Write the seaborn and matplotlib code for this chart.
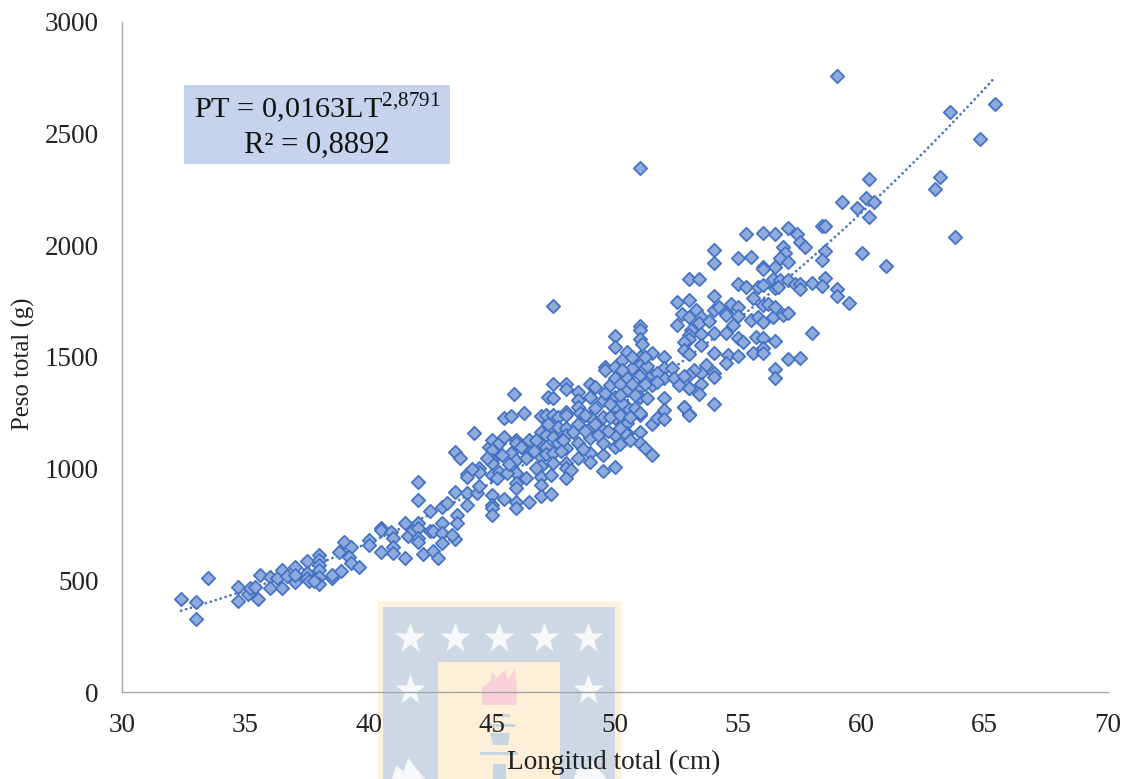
import numpy as np
import matplotlib
matplotlib.use("Agg")
import matplotlib.pyplot as plt
from matplotlib.patches import Rectangle, Polygon
import seaborn as sns

xticks = [30, 35, 40, 45, 50, 55, 60, 65, 70]
yticks = [0, 500, 1000, 1500, 2000, 2500, 3000]
xlabel = "Longitud total (cm)"
ylabel = "Peso total (g)"
coef_a, coef_b = 0.0163, 2.8791
trend_range = [32.4, 65.4]

small_fish = [
(32.4,416),(33,403),(33,327),(33.5,510),(34.7,470),(34.7,407),(35.1,439),(35.2,466),(35.5,416),(35.4,470),
(35.6,524),(36,515),(36,466),(36.3,510),(36.5,546),(36.5,466),(36.7,519),(37,560),(37,492),(37,524),
(37.5,587),(37.5,533),(37.5,510),(37.6,497),(38,613),(38,591),(38,569),(38,546),(38,515),(38,484),
(37.8,497),(38.5,510),(38.5,524),(38.9,542),(38.8,627),(39,672),(39.3,649),(39.2,605),(39.3,578),(39.6,560),
(40,681),(40,658),(40.5,627),(40.5,734),(40.5,725),(40.9,716),(41,690),(41,649),(41,622),(41.5,600),
(41.5,757),(41.6,699),(41.8,725),(42,940),(42,860),(42,757),(42,734),(42,690),(42,672),(42.2,618),
(42.5,810),(42.5,721),(42.6,721),(42.6,631),(42.8,600),(43,757),(43,712),(43,667),(43,828),(43.2,846),
(43.5,895),(43.5,685),(43.6,793),(43.6,757),(43.4,703),
]
medium_fish_a = [
(43.5,1075),(43.7,1048),(44.3,1160),(44,976),(44,963),(44,891),(44,837),(44.4,891),(44.5,1003),(44.5,985),
(44.5,922),(44.9,1097),(45,1128),(45,1084),(45,1039),(45,1025),(45,972),(45,882),(45,837),(45,824),(45,793),
(45.3,1115),(45.5,1142),(45.3,985),(45.2,958),(45.5,864),(45.5,1227),(45.8,1236),(45.9,1334),(46.3,1249),
(45.8,1070),(46,1128),(46,1115),(46,1039),(46,981),(46,936),(46,913),(46,851),(46,824),(45.6,981),
(46.2,1097),(46.4,958),(46.5,1128),(46.5,851),(46.5,1070),(47,1236),(47,1164),(47,1115),(47,1052),(47,1012),
(47,963),(47,927),(47,878),(46.8,1003),(47.2,1240),(47.2,1151),(47.2,1097),(47.2,1066),(47.4,887),(47.4,972),
(47.5,1728),(47.5,1379),(47.3,1321),(47.5,1316),(47.5,1240),(47.5,1182),(47.5,1142),(47.5,1070),(47.5,1025),
(47.7,1231),(47.7,1187),(47.7,1115),(48,1379),(48,1357),(48,1254),(48,1240),(48,1182),(48,1151),(48,1093),
(48,1025),(48,1003),(48,958),(48.2,994),(48.5,1343),(48.5,1307),(48.5,1276),(48.6,1249),(48.5,1200),(48.5,1115),
(48.5,1048),(48.3,1164),(47.9,1130),(47.8,1080),(47.3,1200),(46.8,1130),(46.7,1080),(46.4,1050),(45.7,1020),
(45.4,1060),(44.8,1050),(44.2,1000),
]
medium_fish_b = [
(49,1379),(49.2,1366),(49,1321),(49.2,1272),(49,1231),(49,1182),(49,1137),(49,1070),(49,1030),(49.5,990),
(49.5,1061),(49.5,1115),(49.5,1173),(49.5,1231),(49.5,1307),(49.6,1339),(49.6,1455),(49.6,1442),(49.8,1375),
(50,1594),(50,1545),(50,1455),(50,1406),(50,1321),(50,1276),(50,1227),(50,1151),(50,1097),(50,1008),
(50.3,1487),(50.5,1522),(50.5,1406),(50.5,1352),(50.5,1276),(50.5,1204),(50.5,1160),(50.3,1294),(50.4,1160),
(51,1639),(51,1621),(51,1581),(51.1,1558),(51,1500),(51,1464),(51,1419),(51,1366),(51,1321),(51,1240),
(51,1164),(51,1115),(51.2,1093),(51.5,1518),(51.5,1061),(51.5,1419),(51.5,1375),(51.3,1316),(51.5,1200),
(51.7,1227),(52,1500),(52,1451),(52,1406),(52,1316),(52,1263),(52,1222),(52.3,1451),(52.4,1406),(52.6,1375),
(53,1361),(52.8,1276),(53,1245),(50.2,1380),(50.2,1330),(50.7,1450),(50.7,1380),(50.8,1330),(50.8,1270),
(51.2,1450),(51.2,1380),(51.3,1460),(51.7,1430),(51.7,1390),(51.2,1500),(50.7,1500),(50.3,1440),(49.8,1290),
(49.8,1230),(49.7,1170),(50.2,1240),(50.2,1180),(50.2,1110),(50.6,1130),(50.6,1230),(51,1250),(49.2,1200),
(49.3,1150),(48.8,1240),(48.8,1170),(48.7,1090),(51,2346),
]
large_fish = [
(52.5,1746),(52.5,1643),(52.7,1693),(53,1849),(53.4,1849),(53,1755),(53.3,1711),(53,1679),(53.5,1679),(53.4,1652),
(53.1,1621),(53,1599),(53,1581),(52.8,1567),(53.5,1603),(53.5,1554),(52.8,1531),(53,1513),(54,1979),(54,1921),
(54,1773),(53.8,1661),(54,1711),(54,1608),(54,1518),(54,1428),(54,1411),(54,1290),(53.7,1464),(53.5,1428),
(53.2,1442),(53,1419),(52.8,1415),(53.5,1379),(53,1361),(53.4,1334),(52.8,1276),(53,1240),(54.2,1724),(54.5,1702),
(54.5,1688),(54.7,1737),(54.8,1643),(54.5,1608),(54.6,1509),(54.5,1473),(55,1943),(55,1827),(55,1724),(55,1684),
(55,1585),(55.2,1567),(55,1504),(55.3,2051),(55.5,1948),(55.3,1813),(55.6,1764),(55.5,1666),(55.6,1518),(55.7,1590),
(55.8,1813),(55.8,1679),(56,2055),(56,1903),(56,1894),(56,1822),(56,1733),(56,1657),(56,1585),(56,1540),
(56,1518),(56.2,1737),(56.4,1679),(56.5,2051),(56.5,1903),(56.4,1849),(56.5,1809),(56.5,1724),(56.5,1572),(56.5,1446),
(56.5,1406),(56.8,1688),(57,2078),(56.8,1993),(56.9,1966),(56.7,1943),(57,1925),(56.7,1845),(56.6,1813),(57,1845),
(57,1697),(57,1491),(57.4,2051),(57.5,2015),(57.7,1993),(57.3,1827),(57.5,1827),(57.5,1805),(57.5,1496),(58,1831),
(58,1608),(58.4,2087),(58.5,2087),(58.5,1975),(58.4,1934),(58.5,1854),(58.4,1818),(59,1805),(59,1773),(59.5,1742),
(60,1966),(61,1908),(60.3,2127),(59,2758),(60.3,2297),(59.2,2194),(59.8,2167),(60.2,2212),(60.5,2194),
(63.8,2038),(63,2252),(63.2,2306),(63.6,2597),(64.8,2476),(65.4,2633),
]

W, H = 1133, 779
sns.set_theme(style="white")
plt.rcParams["font.family"] = ["Liberation Serif", "DejaVu Serif"]
plt.rcParams["mathtext.fontset"] = "custom"
plt.rcParams["mathtext.rm"] = "Liberation Serif"

fig = plt.figure(figsize=(W / 100, H / 100), dpi=100, facecolor="white")

# watermark crest behind the plot, laid out in pixel space
bg = fig.add_axes([0, 0, 1, 1], zorder=0)
bg.set_xlim(0, W); bg.set_ylim(H, 0); bg.axis("off")
bg.add_patch(Rectangle((378, 601), 243, 178, fc="#FEF1DE", ec="none"))
bg.add_patch(Rectangle((383, 607), 232, 172, fc="#CDD8E4", ec="none"))
bg.add_patch(Rectangle((438, 662), 122, 117, fc="#FEEFD8", ec="none"))
for sx, sy in [(410, 638), (455, 638), (499, 638), (544, 638), (588, 638), (410, 690), (588, 690)]:
    bg.plot([sx], [sy], marker="*", ms=23, mfc="#F7F8FA", mec="none", ls="none")
bg.add_patch(Polygon([(482, 705), (482, 688), (490, 682), (492, 672), (497, 678), (505, 670), (508, 680),
                      (515, 668), (517, 692), (516, 705)], fc="#F8D0D8", ec="none"))
torch = "#C6D4E3"
bg.add_patch(Rectangle((497, 714), 13, 3, fc=torch, ec="none"))
bg.add_patch(Rectangle((489, 724), 26, 3, fc=torch, ec="none"))
bg.add_patch(Polygon([(490, 733), (510, 733), (508, 745), (493, 745)], fc=torch, ec="none"))
bg.add_patch(Rectangle((480, 752), 38, 3, fc=torch, ec="none"))
bg.add_patch(Rectangle((493, 764), 13, 15, fc=torch, ec="none"))
for ox in (392, 574):
    bg.add_patch(Polygon([(ox, 779), (ox + 4, 766), (ox + 12, 771), (ox + 16, 758), (ox + 24, 768),
                          (ox + 33, 779)], fc="#F7F8FA", ec="none"))

ax = fig.add_axes([122 / W, 1 - 692 / H, (1108 - 122) / W, (692 - 22) / H], zorder=1)
ax.patch.set_alpha(0)

blue, face = "#4472C4", "#8FAADC"
lengths, weights = np.array(small_fish + medium_fish_a + medium_fish_b + large_fish).T

trend_x = np.linspace(trend_range[0], trend_range[1], 200)
ax.plot(trend_x, coef_a * trend_x ** coef_b, color=blue, lw=2.0,
        linestyle=(0, (0.01, 1.85)), dash_capstyle="round", zorder=1)
sns.scatterplot(x=lengths, y=weights, marker="D", s=46, color=face, edgecolor=blue,
                linewidth=1.3, ax=ax, zorder=2, legend=False)

ax.set_xlim(30, 70); ax.set_ylim(0, 3000)
ax.set_xticks(xticks); ax.set_yticks(yticks)
ax.tick_params(length=0, labelsize=19.5, labelcolor="#222222")
ax.tick_params(axis="x", pad=15)
ax.tick_params(axis="y", pad=17)
for s in ("top", "right"):
    ax.spines[s].set_visible(False)
for s in ("left", "bottom"):
    ax.spines[s].set_color("#A6A6A6")
    ax.spines[s].set_linewidth(1.0)
ax.grid(False)
ax.set_xlabel(""); ax.set_ylabel("")

# labels and equation box (on top of the watermark)
top = fig.add_axes([0, 0, 1, 1], zorder=2)
top.set_xlim(0, W); top.set_ylim(H, 0); top.axis("off")
top.text(614, 762, xlabel, ha="center", va="center", fontsize=19.6, color="#222222")
top.text(23, 364, ylabel, ha="center", va="center", rotation=90, fontsize=17.8, color="#222222")
top.add_patch(Rectangle((184, 85), 266, 79, fc="#C5D3EC", ec="none"))
top.text(317, 108, r"PT = 0,0163LT$^{\mathrm{2{,}8791}}$", ha="center", va="center", fontsize=21.8, color="#111111")
top.text(317, 145, "R² = 0,8892", ha="center", va="center", fontsize=22, color="#111111")

fig.savefig("out.png", dpi=100)
